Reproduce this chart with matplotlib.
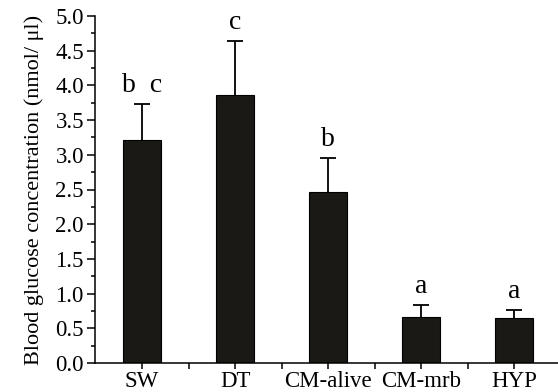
import matplotlib.pyplot as plt
from matplotlib.ticker import MultipleLocator, FixedLocator

groups = ['SW', 'DT', 'CM-alive', 'CM-mrb', 'HYP']
glucose = [3.21, 3.86, 2.47, 0.66, 0.65]
sd = [0.52, 0.78, 0.49, 0.18, 0.11]
letters = ['b  c', 'c', 'b', 'a', 'a']

plt.rcParams['font.family'] = ['Liberation Serif', 'DejaVu Serif']

fig = plt.figure(figsize=(5.58, 3.92), dpi=100)
ax = fig.add_axes([95 / 558, 1 - 363 / 392, 1 - 95 / 558, (363 - 16) / 392])

x = list(range(len(groups)))
ax.bar(x, glucose, width=0.41, color='#1a1916', edgecolor='black', linewidth=0.8, zorder=2)
eb = ax.errorbar(x, glucose, yerr=[[0] * len(sd), sd], fmt='none', ecolor='black',
                 elinewidth=1.3, capsize=5.5, capthick=1.3, zorder=1)
eb.lines[1][0].set_visible(False)

for xi, g, s, lab in zip(x, glucose, sd, letters):
    ax.text(xi, g + s + 0.17, lab, ha='center', va='baseline', fontsize=20)

ax.set_xlim(-0.505, 4.47)
ax.set_ylim(0, 5.0)
ax.set_xticks(x)
ax.set_xticklabels(groups, fontsize=16.5)
ax.xaxis.set_minor_locator(FixedLocator([0.5, 1.5, 2.5, 3.5]))
ax.yaxis.set_major_locator(FixedLocator([i * 0.5 for i in range(11)]))
ax.yaxis.set_minor_locator(MultipleLocator(0.25))
ax.set_yticklabels(['%.1f' % (i * 0.5) for i in range(11)], fontsize=16.5)
ax.set_ylabel('Blood glucose concentration (nmol/ μl)', fontsize=16, labelpad=8)

ax.spines['top'].set_visible(False)
ax.spines['right'].set_visible(False)
ax.spines['left'].set_linewidth(1.1)
ax.spines['bottom'].set_linewidth(1.1)
ax.tick_params(which='major', direction='out', length=6, width=1.1)
ax.tick_params(which='minor', direction='out', length=3, width=1.1)
ax.tick_params(axis='x', which='both', length=4)
ax.tick_params(axis='both', pad=2)

fig.savefig('out.png', dpi=100)
